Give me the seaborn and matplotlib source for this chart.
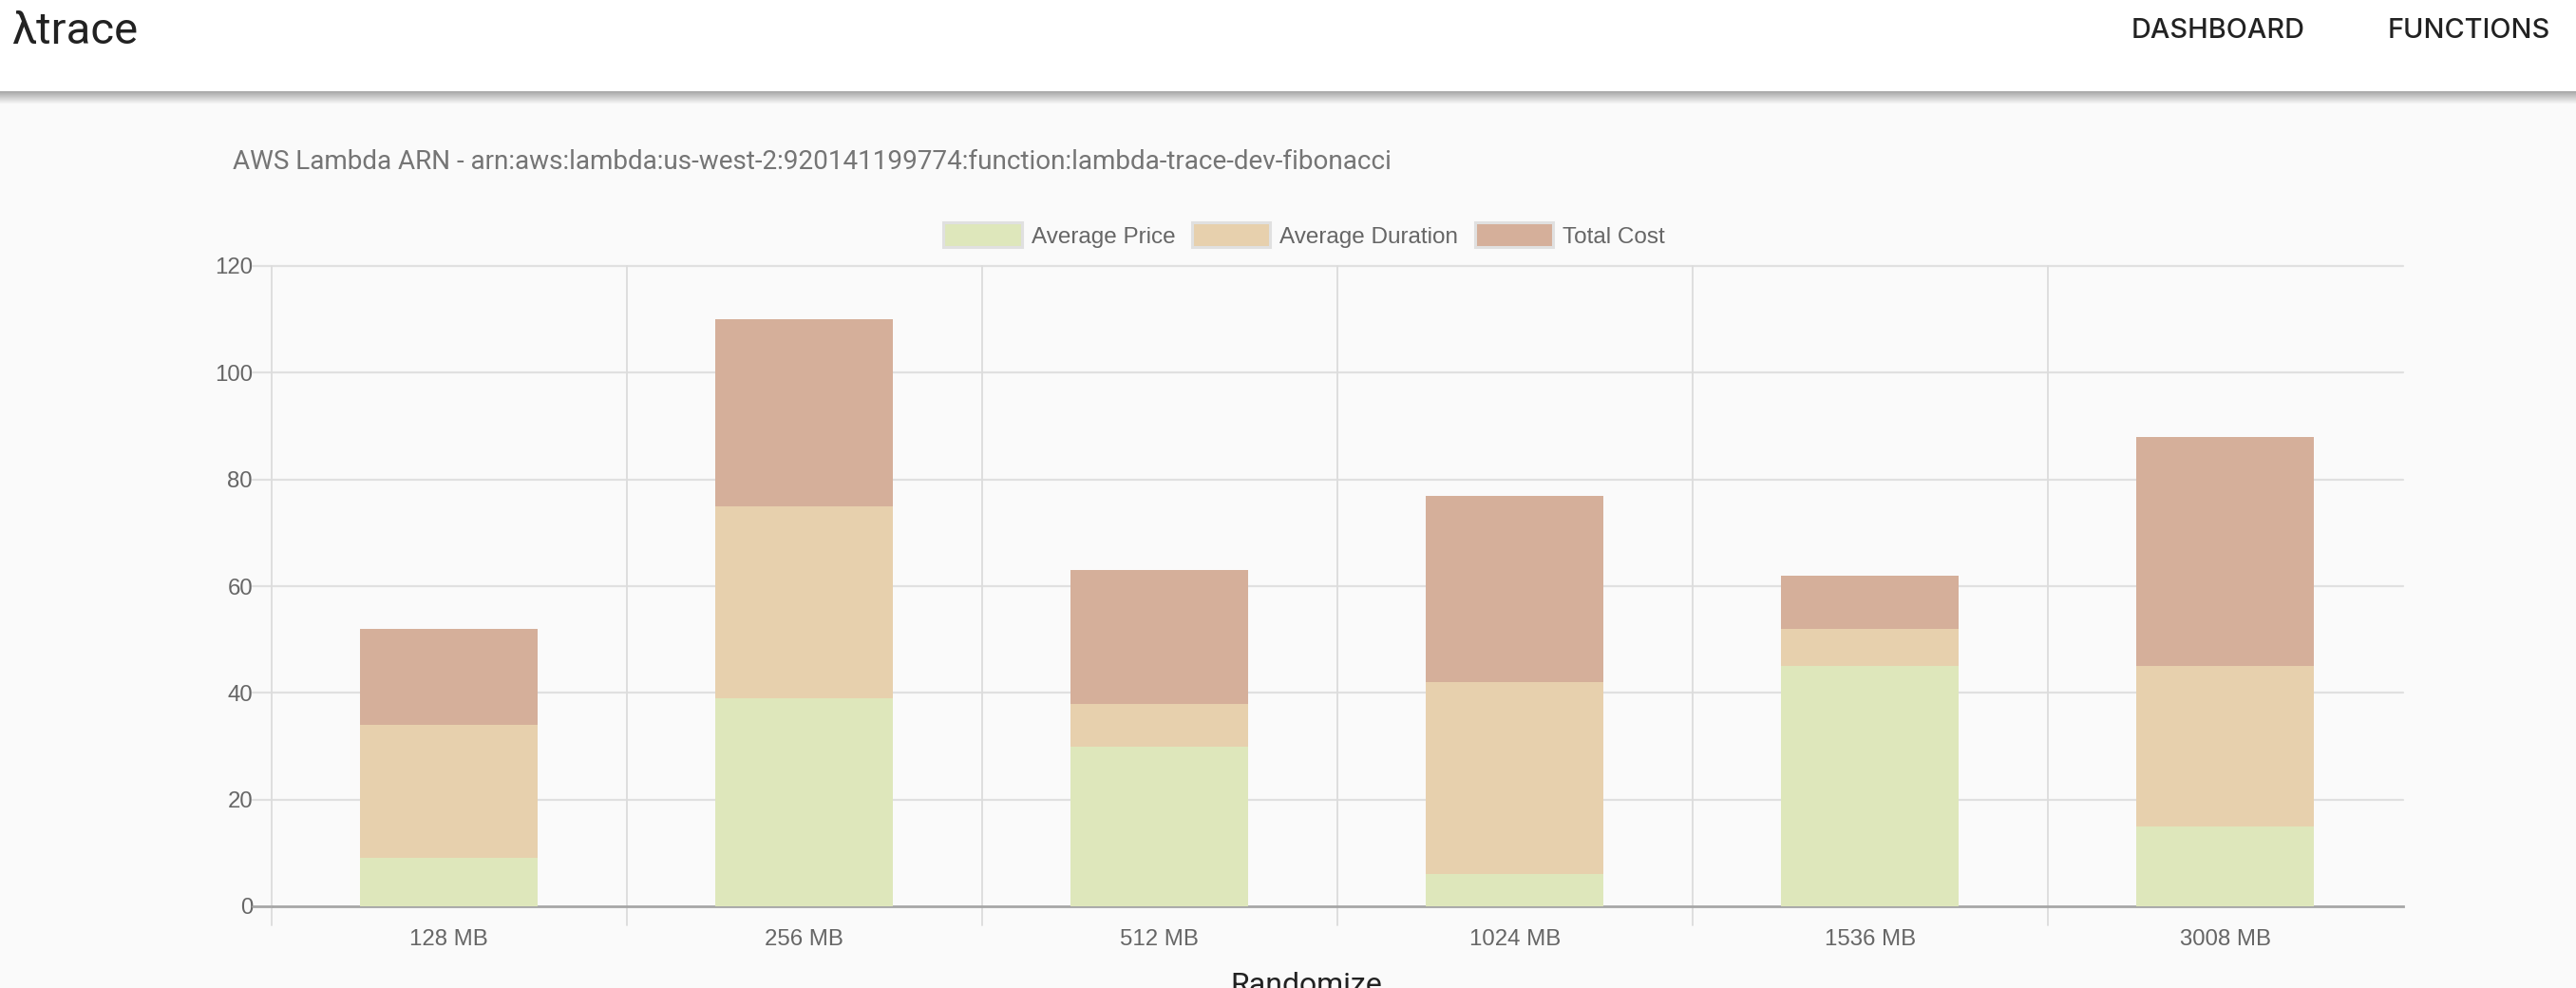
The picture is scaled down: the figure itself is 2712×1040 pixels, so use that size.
import numpy as np
import pandas as pd
import matplotlib
matplotlib.use("Agg")
import matplotlib.pyplot as plt
from matplotlib.patches import Patch
import seaborn as sns

memory = ["128 MB", "256 MB", "512 MB", "1024 MB", "1536 MB", "3008 MB"]
avg_price = [9, 39, 30, 6, 45, 15]
avg_duration = [25, 36, 8, 36, 7, 30]
total_cost = [18, 35, 25, 35, 10, 43]
series_names = ["Average Price", "Average Duration", "Total Cost"]
series_colors = ["#dee7bb", "#e7d0ad", "#d5af9a"]
arn_title = "AWS Lambda ARN - arn:aws:lambda:us-west-2:920141199774:function:lambda-trace-dev-fibonacci"

W, H = 2712, 1040
BG = "#fafafa"
GRID = "#e0e0e0"
TXT = "#666666"
CHART_FONT = ["Liberation Sans", "DejaVu Sans"]
NAV_FONT = ["Inter", "DejaVu Sans"]

sns.set_theme(style="white")
plt.rcParams["font.family"] = ["Roboto", "DejaVu Sans"]

fig = plt.figure(figsize=(W / 100, H / 100), dpi=100, facecolor=BG)

# page chrome: header with a soft shadow under it
bg = fig.add_axes([0, 0, 1, 1], zorder=0)
bg.set_xlim(0, W)
bg.set_ylim(H, 0)
bg.axis("off")
bg.axhspan(0, 96, color="white", lw=0)
shadow = np.linspace(0, 1, 14)[:, None]
bg.imshow(shadow, extent=[0, W, 110, 96], cmap=sns.blend_palette(["#a8a8a8", BG], as_cmap=True), aspect="auto")
bg.set_xlim(0, W)
bg.set_ylim(H, 0)

bg.text(12, 33, "λtrace", fontsize=34, color="#222222", va="center", ha="left")
bg.text(2244, 33, "DASHBOARD", fontsize=20.8, color="#222222", va="center", ha="left", family=NAV_FONT, fontweight="medium")
bg.text(2514, 33, "FUNCTIONS", fontsize=20.8, color="#222222", va="center", ha="left", family=NAV_FONT, fontweight="medium")
bg.text(245, 170, arn_title, fontsize=20.1, color="#757575", va="center", ha="left")
bg.text(1375, 1038, "Randomize", fontsize=23, color="#222222", va="center", ha="center")

# chart area
left, right, top, bottom = 285.5, 2530, 280, 954
ax = fig.add_axes([left / W, 1 - bottom / H, (right - left) / W, (bottom - top) / H], zorder=1)
ax.patch.set_alpha(0)

df = pd.DataFrame({"memory": memory, "price": avg_price, "duration": avg_duration, "cost": total_cost})
bottom_vals = np.zeros(len(df))
for col, name, color in zip(["price", "duration", "cost"], series_names, series_colors):
    sns.barplot(data=df, x="memory", y=col, color=color, saturation=1, width=0.5,
                bottom=bottom_vals, linewidth=0, antialiased=False, ax=ax, zorder=3)
    bottom_vals = bottom_vals + df[col].to_numpy()

ax.set_xlim(-0.5, 5.5)
ax.set_ylim(0, 120)
ax.set_xlabel("")
ax.set_ylabel("")
ax.set_yticks(range(0, 121, 20))
ax.tick_params(axis="both", length=0, labelsize=17.3, labelcolor=TXT)
ax.tick_params(axis="y", pad=14)
ax.tick_params(axis="x", pad=17)
for lab in ax.get_xticklabels() + ax.get_yticklabels():
    lab.set_family(CHART_FONT)

for s in ["top", "right", "left"]:
    ax.spines[s].set_visible(False)
ax.spines["bottom"].set_color("#a6a6a6")
ax.spines["bottom"].set_linewidth(2)
ax.spines["bottom"].set_zorder(2)

# horizontal grid lines run a little left of the axis, vertical ones drop below it
for v in range(20, 121, 20):
    ax.plot([-0.5 - 19 / 374, 5.5], [v, v], color=GRID, lw=1.6, zorder=1, clip_on=False)
ax.plot([-0.5 - 19 / 374, -0.5], [0, 0], color="#a6a6a6", lw=2, zorder=1, clip_on=False)
for i in range(6):
    ax.plot([i - 0.5, i - 0.5], [-20 * 120 / 674, 120], color="#dcdcdc", lw=1.3, zorder=1, clip_on=False)

handles = [Patch(facecolor=c, edgecolor="#e0e0e0", linewidth=2.2, label=n) for n, c in zip(series_names, series_colors)]
fig.legend(handles=handles, loc="center", bbox_to_anchor=(1373 / W, 1 - 247.5 / H), ncol=3, frameon=False,
           prop={"family": CHART_FONT, "size": 17.5}, labelcolor=TXT,
           handlelength=3.4, handleheight=1.25, handletextpad=0.4, columnspacing=0.72)

fig.savefig("out.png", dpi=100, facecolor=BG)
